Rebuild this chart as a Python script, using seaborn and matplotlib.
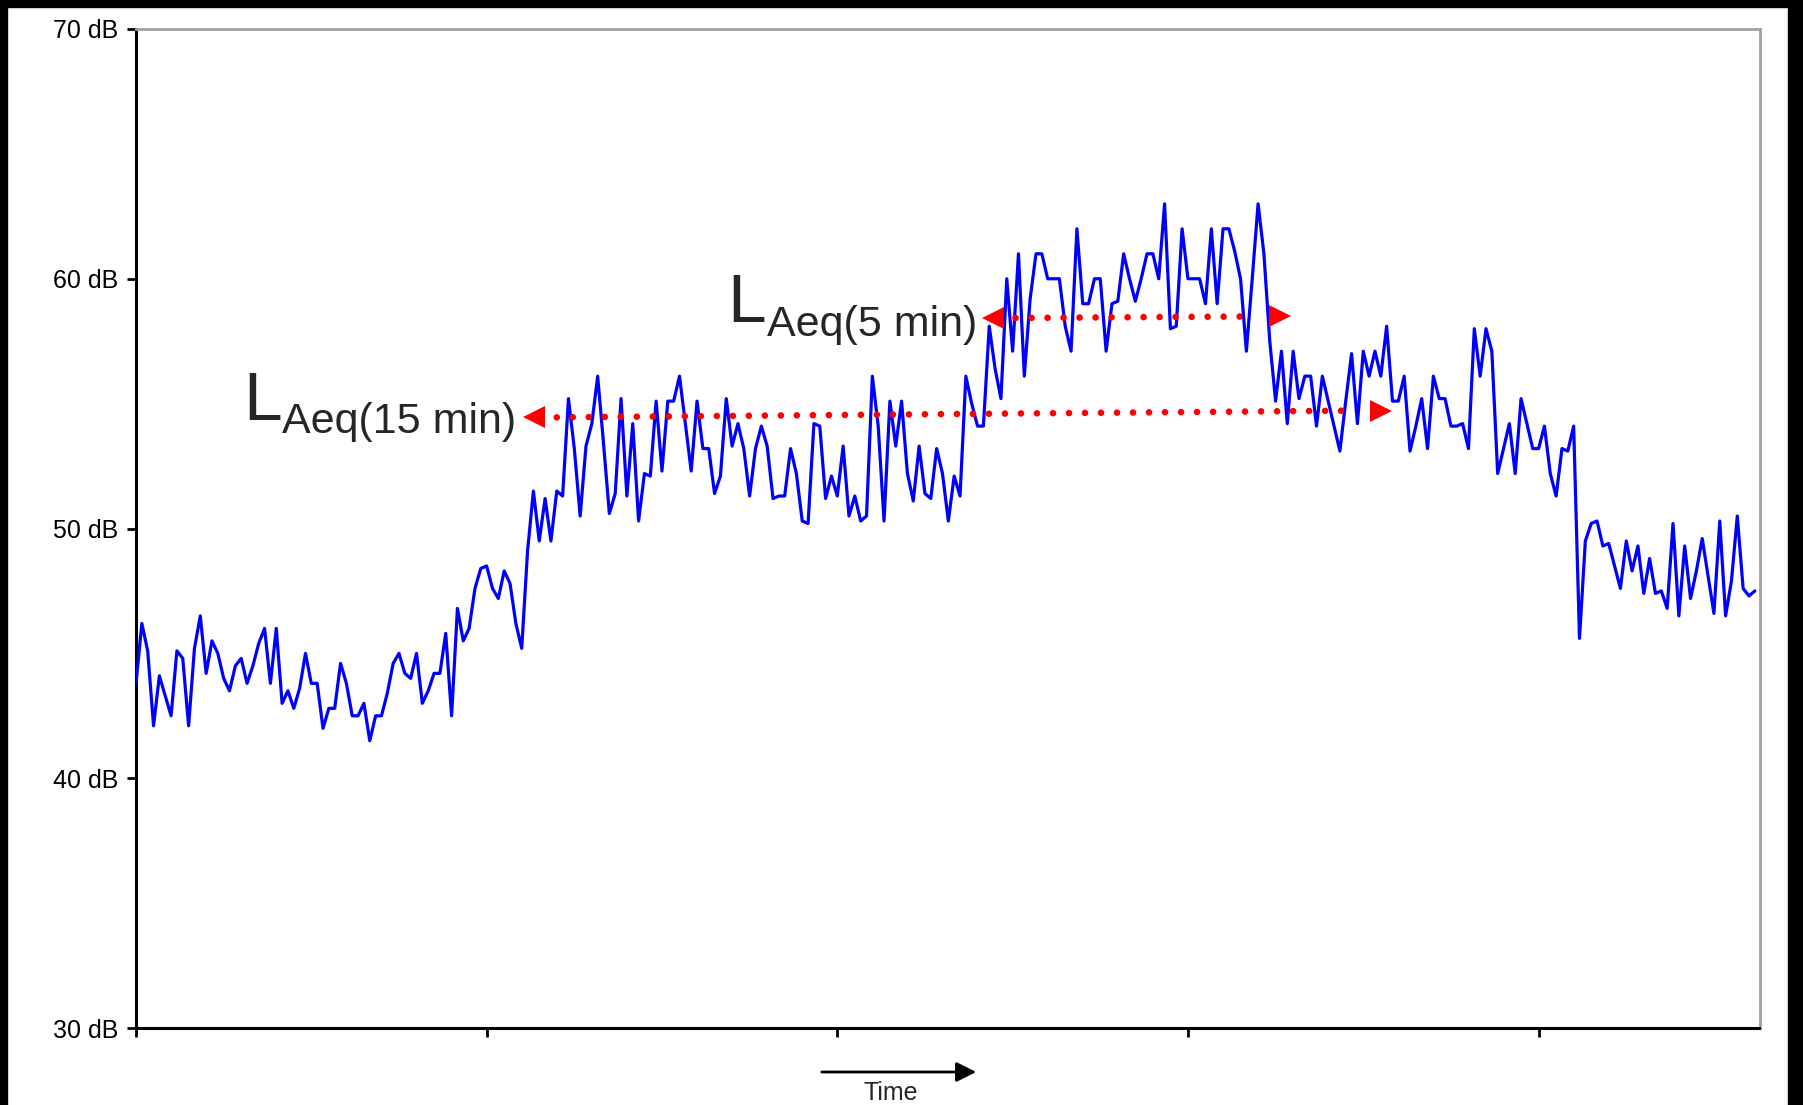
import numpy as np
import pandas as pd
import matplotlib
matplotlib.use("Agg")
import matplotlib.pyplot as plt
import seaborn as sns
from matplotlib.patches import Rectangle

# ---------------- data (dB readings, equally spaced in time) ----------------
quiet_start = [43.8, 46.2, 45.1, 42.1, 44.1, 43.3, 42.5, 45.1, 44.8, 42.1,
               45.2, 46.5, 44.2, 45.5, 45.0, 44.0, 43.5, 44.5, 44.8, 43.8,
               44.5, 45.4, 46.0, 43.8, 46.0, 43.0, 43.5, 42.8, 43.6, 45.0,
               43.8, 43.8, 42.0, 42.8, 42.8, 44.6, 43.8, 42.5, 42.5, 43.0,
               41.5, 42.5, 42.5, 43.4, 44.6, 45.0, 44.2, 44.0, 45.0, 43.0,
               43.5, 44.2, 44.2, 45.8, 42.5]
rise = [46.8, 45.5, 46.0, 47.6, 48.4, 48.5, 47.6, 47.2, 48.3, 47.8,
        46.2, 45.2, 49.1, 51.5, 49.5, 51.2, 49.5, 51.5, 51.3]
busy = [55.2, 53.2, 50.5, 53.3, 54.2, 56.1, 53.4, 50.6, 51.4, 55.2,
        51.3, 54.2, 50.3, 52.2, 52.1, 55.1, 52.3, 55.1, 55.1, 56.1,
        54.2, 52.3, 55.1, 53.2, 53.2, 51.4, 52.1, 55.2, 53.3, 54.2,
        53.2, 51.3, 53.2, 54.1, 53.3, 51.2, 51.3, 51.3, 53.2, 52.2,
        50.3, 50.2, 54.2, 54.1, 51.2, 52.1, 51.3, 53.3, 50.5, 51.3,
        50.3, 50.5, 56.1, 54.1, 50.3, 55.1, 53.3, 55.1, 52.2, 51.1,
        53.3, 51.4, 51.2, 53.2, 52.2, 50.3, 52.1, 51.3, 56.1, 55.0,
        54.1, 54.1]
peak = [58.1, 56.4, 55.2, 60.0, 57.1, 61.0, 56.1, 59.2, 61.0, 61.0,
        60.0, 60.0, 60.0, 58.1, 57.1, 62.0, 59.0, 59.0, 60.0, 60.0,
        57.1, 59.0, 59.1, 61.0, 60.0, 59.1, 60.0, 61.0, 61.0, 60.0,
        63.0, 58.0, 58.1, 62.0, 60.0, 60.0, 60.0, 59.0, 62.0, 59.0,
        62.0, 62.0, 61.1, 60.0, 57.1, 60.0, 63.0, 61.0, 57.5]
after = [55.1, 57.1, 54.2, 57.1, 55.2, 56.1, 56.1, 54.1, 56.1, 55.1,
         54.1, 53.1, 55.1, 57.0, 54.2, 57.1, 56.1, 57.1, 56.1, 58.1,
         55.1, 55.1, 56.1, 53.1, 54.1, 55.2, 53.2, 56.1, 55.2, 55.2,
         54.1, 54.1, 54.2, 53.2, 58.0, 56.1, 58.0, 57.1, 52.2, 53.2,
         54.2, 52.2, 55.2, 54.2, 53.2, 53.2, 54.1, 52.2, 51.3, 53.2,
         53.1, 54.1]
evening = [45.6, 49.5, 50.2, 50.3, 49.3, 49.4, 48.5, 47.6, 49.5, 48.3,
           49.3, 47.4, 48.8, 47.4, 47.5, 46.8, 50.2, 46.5, 49.3, 47.2,
           48.3, 49.6, 48.1, 46.6, 50.3, 46.5, 47.9, 50.5, 47.6, 47.3,
           47.5]

y_ticks = [30, 40, 50, 60, 70]
y_tick_labels = ["30 dB", "40 dB", "50 dB", "60 dB", "70 dB"]
x_ticks = [0, 60, 120, 180, 240]
x_max = 277.8

# LAeq indicator lines (sample index span, level in dB)
laeq15_x = [72.0, 208.7]
laeq15_y = [54.45, 54.72]
laeq15_arrow_x = [68.1, 213.0]
laeq5_x = [150.5, 191.5]
laeq5_y = [58.43, 58.49]
laeq5_arrow_x = [146.6, 195.7]

levels = quiet_start + rise + busy + peak + after + evening
df = pd.DataFrame({"t": np.arange(len(levels)), "level": levels})

# ---------------- figure ----------------
sns.set_style("white")
plt.rcParams["font.family"] = ["Liberation Sans", "DejaVu Sans"]

W, H = 1803, 1105
fig = plt.figure(figsize=(W / 100, H / 100), dpi=100)
fig.patch.set_facecolor("white")
ax = fig.add_axes([136 / W, 1 - 1028 / H, (1759.5 - 136) / W, (1028 - 29) / H])

sns.lineplot(data=df, x="t", y="level", ax=ax, color="#0000FF",
             linewidth=2.3, zorder=3)

# dotted red LAeq lines with arrowheads
red = "#FF0000"
for xs, ys, axs in [(laeq15_x, laeq15_y, laeq15_arrow_x),
                    (laeq5_x, laeq5_y, laeq5_arrow_x)]:
    ax.plot(xs, ys, color=red, linewidth=4.8, linestyle=(0, (0.001, 2.4)),
            dash_capstyle="round", zorder=5)
    ax.plot([axs[0]], [ys[0]], marker="<", color=red, markersize=16.5,
            markeredgewidth=0, linestyle="none", zorder=5)
    ax.plot([axs[1]], [ys[1]], marker=">", color=red, markersize=16.5,
            markeredgewidth=0, linestyle="none", zorder=5)

ax.set_xlim(0, x_max)
ax.set_ylim(30, 70)
ax.set_yticks(y_ticks)
ax.set_yticklabels(y_tick_labels)
ax.set_xticks(x_ticks)
ax.set_xticklabels([])
ax.set_xlabel("")
ax.set_ylabel("")
ax.tick_params(axis="y", direction="out", length=6.7, width=2, pad=6,
               labelsize=18, colors="black", left=True)
ax.tick_params(axis="x", direction="out", length=6.7, width=2,
               bottom=True, colors="black")

for side in ["left", "bottom"]:
    ax.spines[side].set_color("black")
    ax.spines[side].set_linewidth(2.2)
for side in ["top", "right"]:
    ax.spines[side].set_visible(True)
    ax.spines[side].set_color("#A0A0A0")
    ax.spines[side].set_linewidth(2.0)

# LAeq labels
def fx(px):
    return px / W

def fy(py):
    return 1 - py / H

fig.text(fx(243), fy(420), "L", fontsize=50, ha="left", va="baseline")
fig.text(fx(282), fy(433.5), "Aeq(15 min)", fontsize=31, ha="left", va="baseline")
fig.text(fx(727.5), fy(322), "L", fontsize=50, ha="left", va="baseline")
fig.text(fx(767), fy(336), "Aeq(5 min)", fontsize=31, ha="left", va="baseline")

# Time arrow
fig.add_artist(matplotlib.patches.FancyArrowPatch(
    (fx(819), fy(1072)), (fx(979), fy(1072)), transform=fig.transFigure,
    arrowstyle="-|>", mutation_scale=30, color="black", linewidth=2))
fig.text(fx(891), fy(1092.5), "Time", fontsize=18, ha="center", va="center")

# black frame strips (top, left, right)
fig.add_artist(Rectangle((0, 1 - 7 / H), 1, 7 / H, transform=fig.transFigure,
                         color="black", zorder=10))
fig.add_artist(Rectangle((0, 0), 7 / W, 1, transform=fig.transFigure,
                         color="black", zorder=10))
fig.add_artist(Rectangle((1 - 15 / W, 0), 15 / W, 1, transform=fig.transFigure,
                         color="black", zorder=10))

fig.savefig("out.png", dpi=100, facecolor="white")
